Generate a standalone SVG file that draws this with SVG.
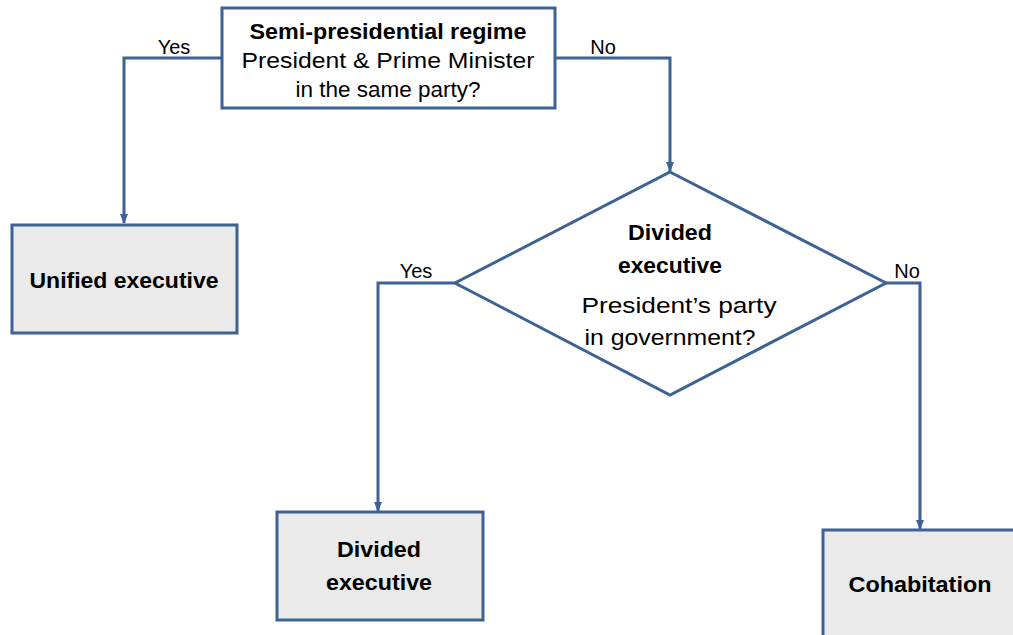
<svg xmlns="http://www.w3.org/2000/svg" width="1013" height="635" viewBox="0 0 1013 635">
<defs>
<style>
.box{fill:#ffffff;stroke:#3d6394;stroke-width:3}
.term{fill:#eaeaea;stroke:#3d6394;stroke-width:3}
.conn{fill:none;stroke:#3d6394;stroke-width:3}
text{font-family:"Liberation Sans",Arial,sans-serif;font-size:22px;fill:#000;text-anchor:middle}
.b{font-weight:bold}
.lbl{font-size:20px}
</style>
<marker id="ah" markerWidth="10" markerHeight="10" refX="9" refY="5" orient="auto" markerUnits="userSpaceOnUse" viewBox="0 0 10 10">
<path d="M0,1 L10,5 L0,9 Z" fill="#3d6394"/>
</marker>
</defs>
<rect width="1013" height="635" fill="#ffffff"/>
<g id="connectors">
<polyline class="conn" points="222,58 124,58 124,223" marker-end="url(#ah)"/>
<polyline class="conn" points="555,58 670,58 670,171" marker-end="url(#ah)"/>
<polyline class="conn" points="455,283 378,283 378,511" marker-end="url(#ah)"/>
<polyline class="conn" points="886,283 920,283 920,529" marker-end="url(#ah)"/>
<text class="lbl" x="174" y="54">Yes</text>
<text class="lbl" x="603" y="54">No</text>
<text class="lbl" x="416" y="278">Yes</text>
<text class="lbl" x="907" y="278">No</text>
</g>
<g id="n1">
<rect class="box" x="222" y="8" width="333" height="100"/>
<text class="b" x="388" y="39" textLength="277" lengthAdjust="spacingAndGlyphs">Semi-presidential regime</text>
<text x="388" y="68" textLength="293" lengthAdjust="spacingAndGlyphs">President &amp; Prime Minister</text>
<text x="388" y="97" textLength="185" lengthAdjust="spacingAndGlyphs">in the same party?</text>
</g>
<g id="n2">
<rect class="term" x="12" y="225" width="225" height="108"/>
<text class="b" x="124" y="288" textLength="189" lengthAdjust="spacingAndGlyphs">Unified executive</text>
</g>
<g id="n3">
<polygon class="box" points="670,172 886,283 670,395 455,283"/>
<text class="b" x="670" y="240" textLength="84" lengthAdjust="spacingAndGlyphs">Divided</text>
<text class="b" x="670" y="273" textLength="104" lengthAdjust="spacingAndGlyphs">executive</text>
<text x="679" y="313" textLength="195" lengthAdjust="spacingAndGlyphs">President’s party</text>
<text x="670" y="345" textLength="171" lengthAdjust="spacingAndGlyphs">in government?</text>
</g>
<g id="n4">
<rect class="term" x="277" y="512" width="206" height="108"/>
<text class="b" x="379" y="557" textLength="84" lengthAdjust="spacingAndGlyphs">Divided</text>
<text class="b" x="379" y="590" textLength="106" lengthAdjust="spacingAndGlyphs">executive</text>
</g>
<g id="n5">
<rect class="term" x="823" y="530" width="205" height="120"/>
<text class="b" x="920" y="592" textLength="143" lengthAdjust="spacingAndGlyphs">Cohabitation</text>
</g>
</svg>
